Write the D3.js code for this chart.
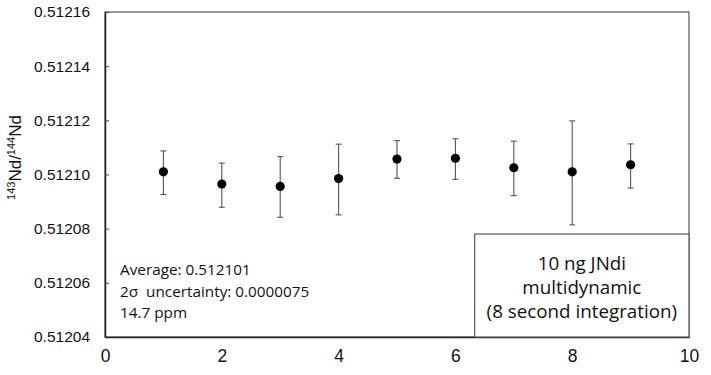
<!DOCTYPE html>
<html>
<head>
<meta charset="utf-8">
<script src="https://cdn.jsdelivr.net/npm/d3@7"></script>
<style>
  body { margin: 0; background: #fff; }
  svg { display: block; }
  text { white-space: pre; }
</style>
</head>
<body>
<div class="chart"></div>
<script>
// data
var runs = [1, 2, 3, 4, 5, 6, 7, 8, 9];
var ratio = [0.512101, 0.5120965, 0.5120956, 0.5120985, 0.5121057, 0.512106, 0.5121025, 0.512101, 0.5121036];
var errHigh = [0.5121087, 0.5121042, 0.5121066, 0.5121112, 0.5121125, 0.5121132, 0.5121123, 0.5121198, 0.5121113];
var errLow = [0.5120926, 0.5120879, 0.5120842, 0.5120851, 0.5120986, 0.5120982, 0.5120922, 0.5120814, 0.512095];
var yTicks = [0.51204, 0.51206, 0.51208, 0.51210, 0.51212, 0.51214, 0.51216];
var xTicks = [0, 2, 4, 6, 8, 10];
var statLines = ["Average: 0.512101", "2\u03c3  uncertainty: 0.0000075", "14.7 ppm"];
var boxLines = ["10 ng JNdi", "multidynamic", "(8 second integration)"];

var W = 711, H = 375;
var margin = {top: 12, right: 22, bottom: 38, left: 105};
var w = W - margin.left - margin.right,
    h = H - margin.top - margin.bottom;

var svg = d3.select("div.chart")
            .append("svg")
            .attr("width", W)
            .attr("height", H);

var g = svg.append("g")
           .attr("transform", "translate(" + margin.left + "," + margin.top + ")");

var x = d3.scaleLinear().domain([0, 10]).range([0, w]);
var y = d3.scaleLinear().domain([0.51204, 0.51216]).range([h, 0]);

// frame (top + right)
g.append("rect")
    .attr("x", 0).attr("y", 0)
    .attr("width", w).attr("height", h)
    .attr("fill", "none")
    .attr("stroke", "#555")
    .attr("stroke-width", 1.2);

// y axis, ticks pointing inside
var yAxis = g.append("g")
    .call(d3.axisLeft(y).tickValues(yTicks).tickSize(-4).tickPadding(15)
            .tickFormat(d3.format(".5f")).tickSizeOuter(0));
yAxis.select(".domain").attr("stroke", "#222").attr("stroke-width", 1.5);
yAxis.selectAll(".tick line").attr("stroke", "#444");
yAxis.selectAll("text")
    .attr("font-family", "'Liberation Sans', Arial, sans-serif")
    .attr("font-size", "15.5px")
    .attr("fill", "#111");

// x axis, no tick marks
var xAxis = g.append("g")
    .attr("transform", "translate(0," + h + ")")
    .call(d3.axisBottom(x).tickValues(xTicks).tickSize(0).tickPadding(13).tickSizeOuter(0));
xAxis.select(".domain").attr("stroke", "#222").attr("stroke-width", 1.5);
xAxis.selectAll("text")
    .attr("font-family", "'Liberation Sans', Arial, sans-serif")
    .attr("font-size", "17.5px")
    .attr("fill", "#111");

// y axis title
var yt = svg.append("text")
    .attr("transform", "translate(21," + (margin.top + h / 2 - 17) + ") rotate(-90)")
    .attr("text-anchor", "middle")
    .attr("font-family", "'Liberation Sans', Arial, sans-serif")
    .attr("font-size", "17px")
    .attr("fill", "#111");
yt.append("tspan").attr("font-size", "11px").attr("dy", "-6").text("143");
yt.append("tspan").attr("dy", "6").text("Nd/");
yt.append("tspan").attr("font-size", "11px").attr("dy", "-6").text("144");
yt.append("tspan").attr("dy", "6").text("Nd");

// error bars
var pts = runs.map(function(r, i) {
    return {x: r, v: ratio[i], lo: errLow[i], hi: errHigh[i]};
});

var bars = g.selectAll("g.err")
    .data(pts)
    .enter()
    .append("g")
    .attr("class", "err")
    .attr("stroke", "#555")
    .attr("stroke-width", 1.1);

bars.append("line")
    .attr("x1", function(d) { return x(d.x); })
    .attr("x2", function(d) { return x(d.x); })
    .attr("y1", function(d) { return y(d.lo); })
    .attr("y2", function(d) { return y(d.hi); });
bars.append("line")
    .attr("x1", function(d) { return x(d.x) - 3; })
    .attr("x2", function(d) { return x(d.x) + 3; })
    .attr("y1", function(d) { return y(d.hi); })
    .attr("y2", function(d) { return y(d.hi); });
bars.append("line")
    .attr("x1", function(d) { return x(d.x) - 3; })
    .attr("x2", function(d) { return x(d.x) + 3; })
    .attr("y1", function(d) { return y(d.lo); })
    .attr("y2", function(d) { return y(d.lo); });

g.selectAll("circle")
    .data(pts)
    .enter()
    .append("circle")
    .attr("cx", function(d) { return x(d.x); })
    .attr("cy", function(d) { return y(d.v); })
    .attr("r", 4.6)
    .attr("fill", "#000");

// stats text
g.selectAll("text.stat")
    .data(statLines)
    .enter()
    .append("text")
    .attr("class", "stat")
    .attr("x", 15)
    .attr("y", function(d, i) { return 263 + i * 21.5; })
    .attr("font-family", "'Open Sans', sans-serif")
    .attr("font-size", "15.3px")
    .attr("fill", "#111")
    .text(function(d) { return d; });

// label box
var bx = x(6.33), by = 222;
g.append("rect")
    .attr("x", bx).attr("y", by)
    .attr("width", w - bx).attr("height", h - by)
    .attr("fill", "#fff")
    .attr("stroke", "#555")
    .attr("stroke-width", 1.2);

g.selectAll("text.box")
    .data(boxLines)
    .enter()
    .append("text")
    .attr("class", "box")
    .attr("x", (bx + w) / 2)
    .attr("y", function(d, i) { return 258 + i * 24; })
    .attr("text-anchor", "middle")
    .attr("font-family", "'Open Sans', sans-serif")
    .attr("font-size", "18.8px")
    .attr("fill", "#111")
    .text(function(d) { return d; });
</script>
</body>
</html>
